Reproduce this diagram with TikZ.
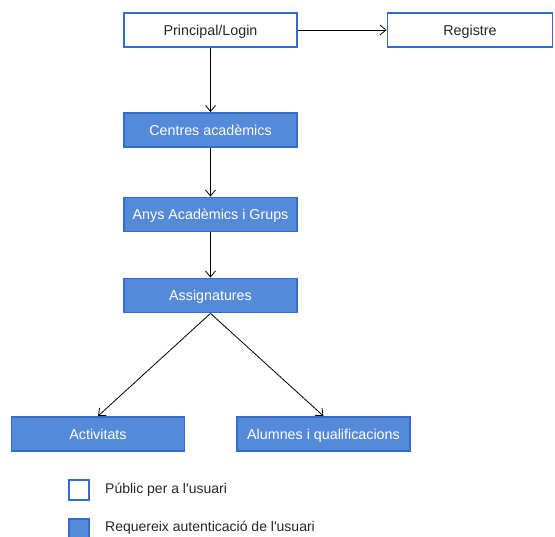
\documentclass[tikz,border=0pt]{standalone}
\usepackage{fontspec}
\setmainfont{Liberation Sans}
\newfontfamily\plainsans{Liberation Sans}
\usetikzlibrary{arrows.meta}
\definecolor{boxfill}{RGB}{85,138,216}
\definecolor{boxline}{RGB}{50,108,208}
\begin{document}
\begin{tikzpicture}[x=1pt,y=-1pt,
  pub/.style={draw=boxline,line width=1.8pt,fill=white,minimum width=173pt,minimum height=34pt,inner sep=0pt,text height=12pt,text depth=1.8pt,font=\plainsans\fontsize{14.3}{16}\selectfont,text=black!85},
  auth/.style={pub,fill=boxfill,text=white},
  conn/.style={line width=0.8pt,-{Straight Barb[length=6pt,width=10pt,line width=0.8pt]}},
  leg/.style={draw=boxline,line width=1.8pt,minimum size=20pt,inner sep=0pt},
  legtext/.style={anchor=west,inner sep=0pt,font=\plainsans\fontsize{14}{16}\selectfont,text=black!85}]
\useasboundingbox (0,0) rectangle (555,537);
\node[pub] (login) at (210.5,30) {Principal/Login};
\node[pub,minimum width=165pt] (reg) at (470,30) {Registre};
\node[auth] (centres) at (210.5,130) {Centres acadèmics};
\node[auth] (anys) at (210.5,214.5) {Anys Acadèmics i Grups};
\node[auth] (assig) at (210.5,295.5) {Assignatures};
\node[auth] (activ) at (98,434) {Activitats};
\node[auth] (alum) at (323.5,434) {Alumnes i qualificacions};
\draw[conn] (login) -- (reg);
\draw[conn] (login) -- (centres);
\draw[conn] (centres) -- (anys);
\draw[conn] (anys) -- (assig);
\draw[conn] (assig.south) -- (activ.north);
\draw[conn] (assig.south) -- (alum.north);
\node[leg,fill=white] (lpub) at (79,490) {};
\node[leg,fill=boxfill] (lauth) at (79,529) {};
\node[legtext] (tpub) at (105,490) {Públic per a l'usuari};
\node[legtext] (tauth) at (105,528) {Requereix autenticació de l'usuari};
\end{tikzpicture}
\end{document}
